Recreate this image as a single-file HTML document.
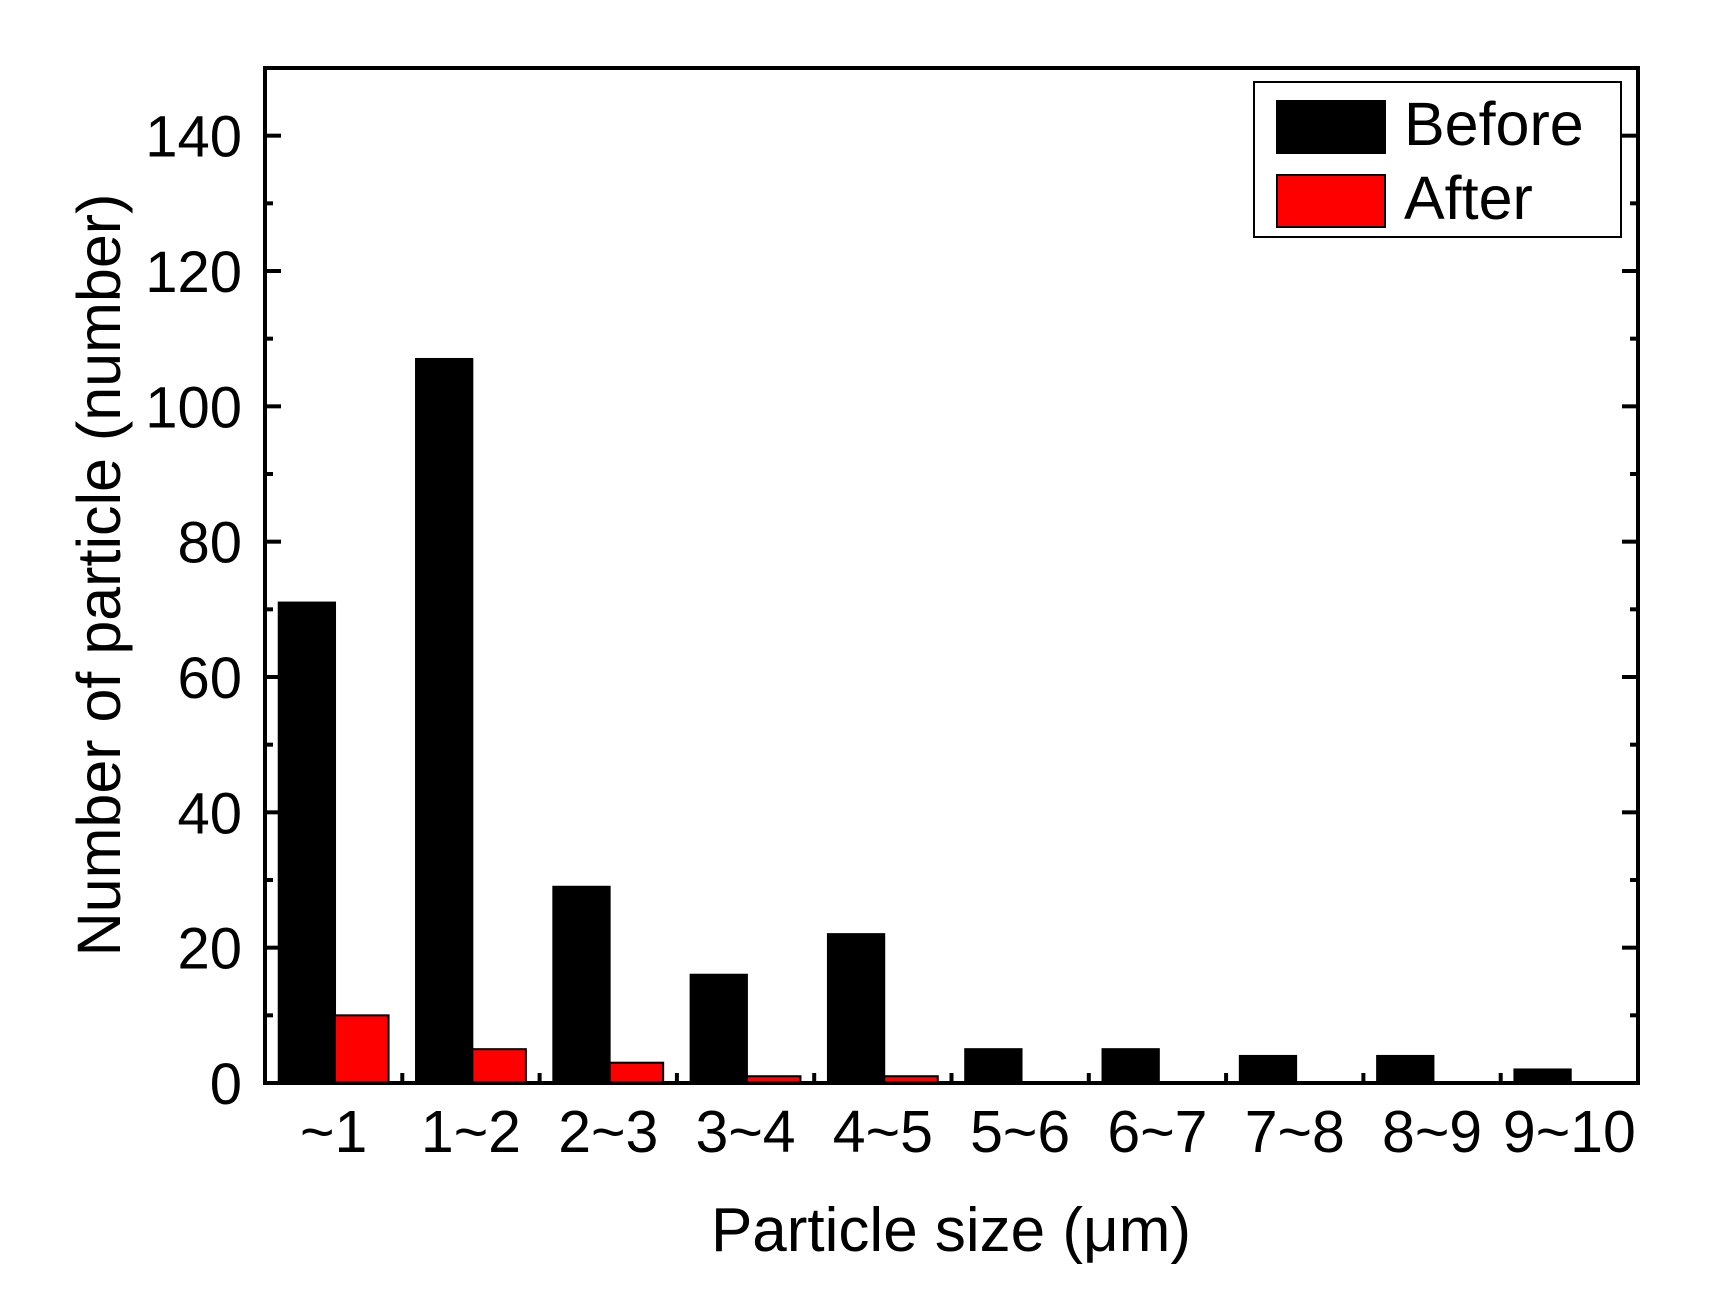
<!DOCTYPE html>
<html><head><meta charset="utf-8"><style>
body{margin:0;background:#fff}
svg{display:block;font-family:"Liberation Sans",Arial,sans-serif}
</style></head><body>
<svg id="chart" width="1711" height="1309" viewBox="0 0 1711 1309" xmlns="http://www.w3.org/2000/svg">
<g id="bars"></g>
<g id="axes"></g>
<rect x="265" y="68" width="1373" height="1015" fill="none" stroke="#000" stroke-width="4"/>
<g>
<rect x="1254" y="82" width="367" height="155" fill="#fff" stroke="#000" stroke-width="2"/>
<rect x="1277" y="101" width="108" height="52" fill="#000" stroke="#000" stroke-width="2"/>
<text x="1404" y="145" font-size="61">Before</text>
<rect x="1277" y="175" width="108" height="52" fill="#f00" stroke="#000" stroke-width="2"/>
<text x="1404" y="219" font-size="61">After</text>
</g>
<text x="951" y="1251" font-size="62" text-anchor="middle">Particle size (μm)</text>
<text transform="translate(120,575) rotate(-90)" font-size="61" text-anchor="middle">Number of particle (number)</text>
</svg>
<script>
const categories=["~1","1~2","2~3","3~4","4~5","5~6","6~7","7~8","8~9","9~10"];
const beforeValues=[71,107,29,16,22,5,5,4,4,2];
const afterValues=[10,5,3,1,1,0,0,0,0,0];
const yTicks=[0,20,40,60,80,100,120,140];
const yMax=150;
const L=265,R=1638,T=68,B=1083;
const gw=(R-L)/categories.length;
function y(v){return B-(v/yMax)*(B-T);}
function xg(i){return L+i*gw;}
const NS="http://www.w3.org/2000/svg";
const bars=document.getElementById('bars'),axes=document.getElementById('axes');
function mk(tag,attrs,parent){const e=document.createElementNS(NS,tag);for(const k in attrs)e.setAttribute(k,attrs[k]);parent.appendChild(e);return e;}
categories.forEach((c,i)=>{
  const x0=xg(i);
  const b=mk('rect',{x:x0+gw*0.1,y:y(beforeValues[i]),width:gw*0.41,height:B-y(beforeValues[i]),fill:'#000',stroke:'#000','stroke-width':2},bars);
  
  
  const a=mk('rect',{x:x0+gw*0.51,y:y(afterValues[i]),width:gw*0.39,height:B-y(afterValues[i]),fill:'#f00',stroke:'#000','stroke-width':2},bars);
  
  
  const t=mk('text',{x:x0+gw/2,y:1152,'font-size':59,'text-anchor':'middle'},axes);
  t.textContent=c;
  
  
  if(i>0){const tk=mk('line',{x1:x0,x2:x0,y1:B,y2:B-10,stroke:'#000','stroke-width':4},axes);
  
  }
});
for(let v=10;v<yMax;v+=10){
  const major=v%20===0, len=major?16:8;
  const l1=mk('line',{x1:L,x2:L+len,y1:y(v),y2:y(v),stroke:'#000','stroke-width':4},axes);
  
  
  const l2=mk('line',{x1:R,x2:R-len,y1:y(v),y2:y(v),stroke:'#000','stroke-width':4},axes);
  
  
}
yTicks.forEach(v=>{
  const t=mk('text',{x:242,y:y(v)+21,'font-size':58,'text-anchor':'end'},axes);
  t.textContent=v;
  
  
});
</script>
</body></html>
